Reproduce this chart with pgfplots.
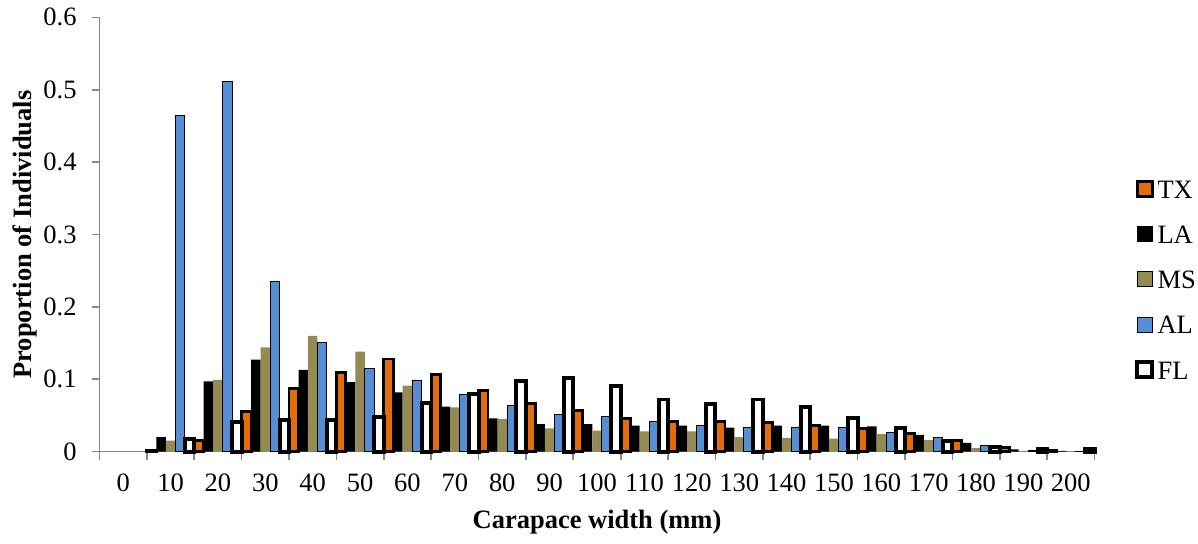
\documentclass[border=0pt,12pt]{standalone}
\usepackage{fontspec}
\setmainfont{Liberation Serif}
\usepackage{pgfplots}
\pgfplotsset{compat=1.18}
\usetikzlibrary{calc}
\definecolor{txc}{RGB}{228,108,10}
\definecolor{msc}{RGB}{148,138,84}
\definecolor{alc}{RGB}{85,142,213}
\definecolor{axc}{RGB}{134,134,134}
\pgfplotsset{
  mybar/.style={ybar, bar width=0.2,
    legend image code/.code={\draw[##1] (0pt,-3.4pt) rectangle (6.8pt,3.4pt);}},
}
\begin{document}
\begin{tikzpicture}
\begin{axis}[
  scale only axis, width=450.7pt, height=196.7pt,
  xmin=-0.5, xmax=20.5, ymin=0, ymax=0.6,
  clip=false,
  axis x line=bottom, axis y line=left,
  axis line style={-, draw=axc, line width=0.75pt},
  tick style={draw=axc, line width=0.75pt},
  tick align=outside, major tick length=3.6pt,
  xtick={-0.5,0.5,...,20.5},
  x tick label as interval,
  xticklabels={0,10,20,30,40,50,60,70,80,90,100,110,120,130,140,150,160,170,180,190,200},
  ytick={0,0.1,0.2,0.3,0.4,0.5,0.6},
  /pgf/number format/assume math mode=true,
  yticklabel style={anchor=east, inner sep=0pt, xshift=-6.6pt},
  xticklabel style={anchor=base, inner sep=0pt, yshift=-14.6pt},
  xlabel={\textbf{Carapace width (mm)}},
  ylabel={\textbf{Proportion of Individuals}},
  xlabel style={at={(rel axis cs:0.5,0)}, anchor=base, yshift=-35pt},
  ylabel style={at={($(rel axis cs:0,0.5)+(-31pt,0pt)$)}, anchor=base},
  legend style={draw=none, fill=none, at={(axis description cs:1.0407,0.628)}, anchor=north west,
    inner sep=0pt, row sep=12.0pt, column sep=1.4pt,
    nodes={inner sep=0pt, text height=8.5pt, text depth=0pt}},
  legend cell align=left,
]
\addplot[mybar, bar shift=-0.4, fill=txc, draw=black, line width=1.3pt] coordinates {
(1,0.002) (2,0.015) (3,0.055) (4,0.087) (5,0.109) (6,0.128) (7,0.106) (8,0.084) (9,0.066) (10,0.057)
(11,0.046) (12,0.041) (13,0.042) (14,0.040) (15,0.036) (16,0.032) (17,0.025) (18,0.015) (19,0.006) (20,0.001)};
\addlegendentry{TX}
\addplot[mybar, bar shift=-0.2, fill=black, draw=none] coordinates {
(1,0.020) (2,0.097) (3,0.127) (4,0.113) (5,0.096) (6,0.082) (7,0.062) (8,0.046) (9,0.038) (10,0.038)
(11,0.036) (12,0.036) (13,0.033) (14,0.036) (15,0.036) (16,0.035) (17,0.023) (18,0.012) (19,0.003) (20,0.001)};
\addlegendentry{LA}
\addplot[mybar, bar shift=0, fill=msc, draw=none] coordinates {
(1,0.015) (2,0.099) (3,0.144) (4,0.160) (5,0.138) (6,0.091) (7,0.061) (8,0.045) (9,0.032) (10,0.029)
(11,0.028) (12,0.028) (13,0.020) (14,0.019) (15,0.018) (16,0.024) (17,0.016) (18,0.005) (19,0.001) (20,0.0005)};
\addlegendentry{MS}
\addplot[mybar, bar shift=0.2, fill=alc, draw=black, line width=0.4pt] coordinates {
(1,0.464) (2,0.512) (3,0.235) (4,0.151) (5,0.115) (6,0.099) (7,0.079) (8,0.064) (9,0.051) (10,0.049)
(11,0.042) (12,0.036) (13,0.033) (14,0.034) (15,0.034) (16,0.027) (17,0.019) (18,0.009) (19,0.002) (20,0.0003)};
\addlegendentry{AL}
\addplot[mybar, bar shift=0.4, fill=white, draw=black, line width=1.8pt] coordinates {
(1,0.017) (2,0.041) (3,0.043) (4,0.044) (5,0.048) (6,0.067) (7,0.080) (8,0.0975) (9,0.102) (10,0.090)
(11,0.072) (12,0.066) (13,0.072) (14,0.061) (15,0.046) (16,0.033) (17,0.015) (18,0.007) (19,0.003) (20,0.003)};
\addlegendentry{FL}
\coordinate (bbl) at (rel axis cs:-0.1,-0.1987);
\coordinate (btr) at (rel axis cs:1.104,1.04);
\end{axis}
\path (bbl) rectangle (btr);
\end{tikzpicture}
\end{document}
